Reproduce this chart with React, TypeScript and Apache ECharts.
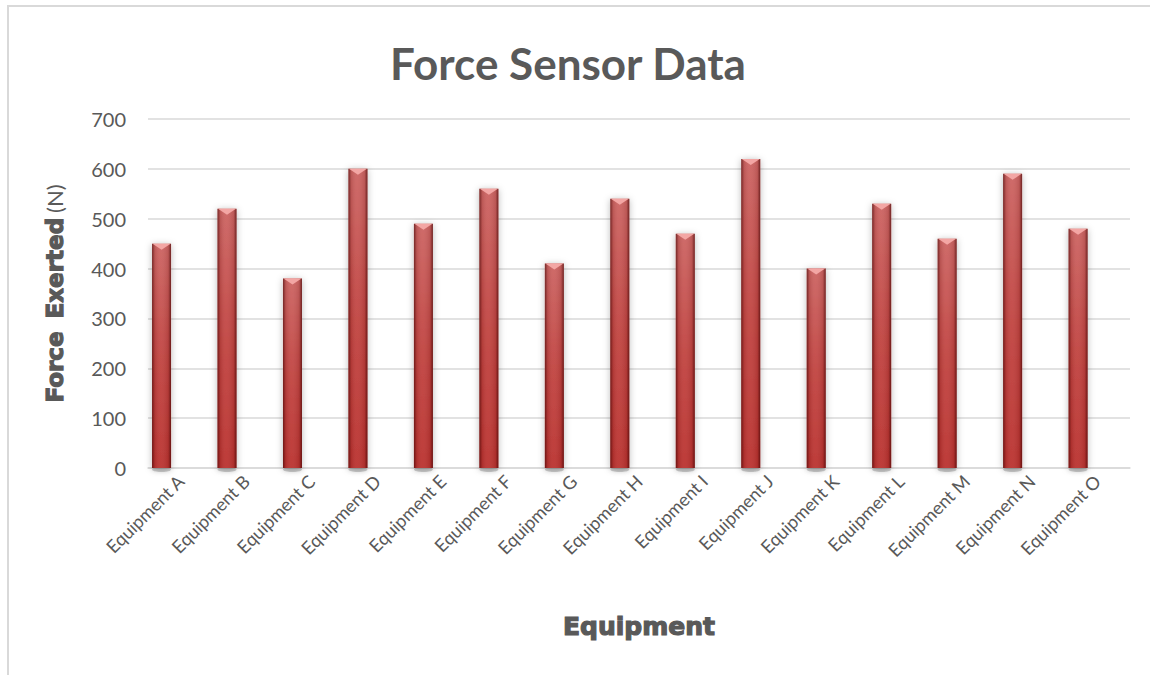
import React, { useEffect, useRef } from "react";
import * as echarts from "echarts";

const categories = [
  "Equipment A", "Equipment B", "Equipment C", "Equipment D", "Equipment E",
  "Equipment F", "Equipment G", "Equipment H", "Equipment I", "Equipment J",
  "Equipment K", "Equipment L", "Equipment M", "Equipment N", "Equipment O",
];
const forces = [450, 520, 380, 600, 490, 560, 410, 540, 470, 620, 400, 530, 460, 590, 480];

const chartTitle = "Force Sensor Data";
const xTitle = "Equipment";
const yTitleWords = ["Force", "Exerted"];
const yTitleUnit = "(N)";

const TEXT = "#595959";
const GRID = "#d9d9d9";

export default function App() {
  const ref = useRef<HTMLDivElement>(null);

  useEffect(() => {
    if (!ref.current) return;
    const chart = echarts.init(ref.current, null, { renderer: "svg" });

    const renderBar = (params: any, api: any) => {
      const i = api.value(0);
      const v = api.value(1);
      const top = api.coord([i, v]);
      const base = api.coord([i, 0]);
      const cw = api.size([1, 0])[0];
      const w = cw * 0.29;
      const cx = top[0] - cw * 0.293;
      const x0 = cx - w / 2;
      const h = base[1] - top[1];
      return {
        type: "group",
        children: [
          {
            type: "ellipse",
            shape: { cx: cx, cy: base[1] + 1.5, rx: w / 2, ry: 2.5 },
            style: { fill: "rgba(60,60,60,0.25)", shadowBlur: 4, shadowColor: "rgba(0,0,0,0.3)" },
          },
          {
            type: "rect",
            shape: { x: x0, y: top[1], width: w, height: h },
            style: {
              fill: new echarts.graphic.LinearGradient(0, 0, 0, 1, [
                { offset: 0, color: "#cd6664" },
                { offset: 0.5, color: "#c24643" },
                { offset: 1, color: "#bb3431" },
              ]),
              shadowBlur: 7,
              shadowColor: "rgba(0,0,0,0.28)",
              shadowOffsetY: 1,
            },
          },
          {
            type: "rect",
            shape: { x: x0, y: top[1], width: w, height: h },
            style: {
              fill: new echarts.graphic.LinearGradient(0, 0, 1, 0, [
                { offset: 0, color: "rgba(60,0,0,0.6)" },
                { offset: 0.15, color: "rgba(60,0,0,0.12)" },
                { offset: 0.45, color: "rgba(255,255,255,0.04)" },
                { offset: 0.85, color: "rgba(60,0,0,0.12)" },
                { offset: 1, color: "rgba(60,0,0,0.65)" },
              ]),
            },
          },
          {
            type: "polygon",
            shape: {
              points: [
                [x0 + 0.5, top[1]],
                [x0 + w - 0.5, top[1]],
                [cx, top[1] + 6],
              ],
            },
            style: { fill: "#f3a6a4" },
          },
        ],
      };
    };

    const heavy = {
      fontFamily: "DejaVu Sans",
      fontWeight: "bold",
      fontSize: 23,
      color: TEXT,
      textBorderColor: TEXT,
      textBorderWidth: 1.2,
    };

    chart.setOption({
      animation: false,
      backgroundColor: "#ffffff",
      title: {
        text: chartTitle,
        left: 563,
        top: 36,
        textAlign: "center",
        textStyle: { fontFamily: "Lato", fontWeight: "bold", fontSize: 44, color: TEXT },
      },
      graphic: [
        {
          type: "rect",
          shape: { x: 8, y: 6, width: 1160, height: 700 },
          style: { fill: "none", stroke: GRID, lineWidth: 2 },
          silent: true,
        },
      ],
      grid: { left: 148, right: 20, top: 119, bottom: 207 },
      xAxis: {
        type: "category",
        data: categories,
        name: xTitle,
        nameLocation: "middle",
        nameGap: 146,
        nameTextStyle: {
          fontFamily: "DejaVu Sans",
          fontWeight: "bold",
          fontSize: 25,
          color: TEXT,
          textBorderColor: TEXT,
          textBorderWidth: 1.2,
        },
        axisLine: { show: true, lineStyle: { color: GRID, width: 1.5 } },
        axisTick: { show: false },
        axisLabel: {
          rotate: 45,
          interval: 0,
          margin: 10,
          fontFamily: "Lato",
          fontSize: 18,
          color: TEXT,
        },
      },
      yAxis: {
        type: "value",
        min: 0,
        max: 700,
        interval: 100,
        name: `{a|${yTitleWords[0]}}{s| }{a|${yTitleWords[1]}}{t| }{b|${yTitleUnit}}`,
        nameLocation: "middle",
        nameRotate: 90,
        nameGap: 82,
        nameTextStyle: {
          rich: {
            a: heavy,
            s: { fontSize: 23, width: 13 },
            t: { fontSize: 22, width: 5 },
            b: { fontFamily: "Lato", fontSize: 22, color: TEXT },
          },
        },
        axisLine: { show: false },
        axisTick: { show: false },
        splitLine: { lineStyle: { color: GRID, width: 1.5 } },
        axisLabel: { fontFamily: "Lato", fontSize: 20, color: TEXT, margin: 22 },
      },
      series: [
        {
          type: "custom",
          renderItem: renderBar,
          data: forces.map((v, i) => [i, v]),
          encode: { x: 0, y: 1 },
        },
      ],
    });

    return () => chart.dispose();
  }, []);

  return (
    <div
      ref={ref}
      style={{ position: "absolute", left: 0, top: 0, width: 1150, height: 675 }}
    />
  );
}
